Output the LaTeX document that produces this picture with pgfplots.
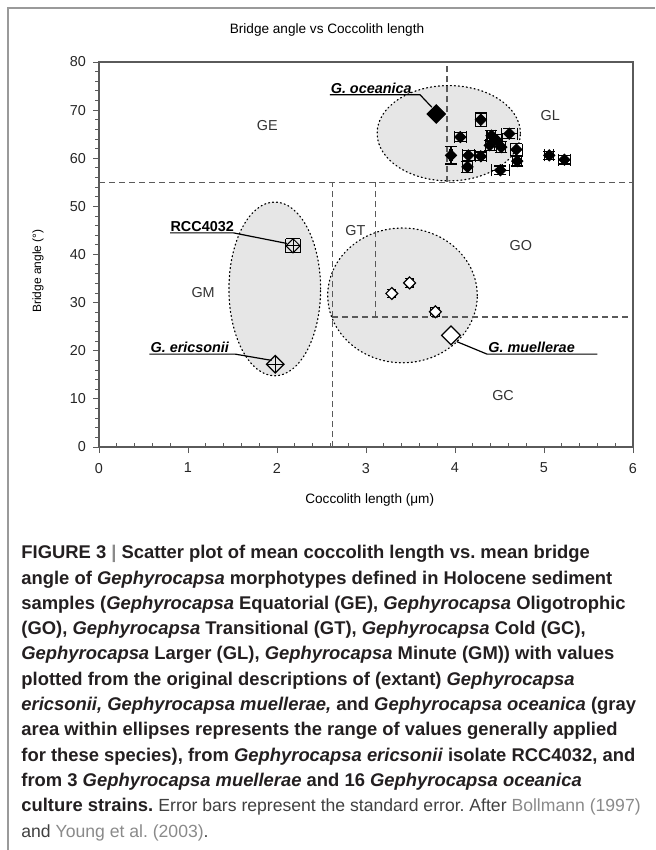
\documentclass[border=0pt]{standalone}
\usepackage{fontspec}
\setmainfont{Liberation Sans}
\usepackage{pgfplots}
\pgfplotsset{compat=1.18}
\usepackage{pgfplotstable}

\definecolor{framegray}{HTML}{9A9A9A}
\definecolor{axisgray}{HTML}{5A5A5A}
\definecolor{ellfill}{HTML}{E6E6E6}
\definecolor{captxt}{HTML}{231F20}
\definecolor{linkgray}{HTML}{8A8A8A}

% G. oceanica culture strains (mean, standard error)
\pgfplotstableread{
x     y     ex    ey
4.29  68.0  0.06  1.4
4.06  64.4  0.07  1.0
3.955 60.6  0.02  1.8
4.15  60.6  0.07  1.1
4.29  60.4  0.06  0.9
4.14  58.2  0.06  1.2
4.41  64.7  0.05  1.0
4.47  63.7  0.06  1.2
4.39  62.7  0.05  1.0
4.52  62.3  0.05  1.1
4.61  65.1  0.09  1.0
4.69  61.8  0.07  1.2
4.70  59.4  0.05  1.0
4.51  57.5  0.10  0.9
5.06  60.6  0.05  0.8
5.23  59.7  0.07  0.9
}\oceanica

% G. muellerae culture strains
\pgfplotstableread{
x     y     ex    ey
3.29  31.9  0.04  0.9
3.49  34.1  0.04  1.0
3.78  28.1  0.05  0.9
}\muellerae

\begin{document}
\frenchspacing
\begin{tikzpicture}[x=0.5pt,y=-0.5pt,
    dashline/.style={axisgray, line width=0.6pt, dash pattern=on 3pt off 2pt},
    ell/.style={fill=ellfill, draw=black, line width=0.6pt, dash pattern=on 0.5pt off 1.5pt, line cap=round}]
\useasboundingbox (0,0) rectangle (655,850);
\draw[framegray, line width=0.75pt] (8,850) -- (8,8) -- (655,8);

\node[font=\fontsize{6.8}{8}\selectfont] at (327,30) {Bridge angle vs Coccolith length};

\begin{axis}[
    at={(49.5pt,-223.5pt)}, anchor=south west,
    scale only axis, width=267pt, height=192.5pt,
    xmin=0, xmax=6, ymin=0, ymax=80,
    xtick={0,1,...,6}, ytick={0,10,...,80},
    minor x tick num=4, minor y tick num=4,
    xtick pos=bottom, ytick pos=left,
    tick align=outside,
    major tick length=3pt, minor tick length=1.8pt,
    every minor x tick/.append style={yshift=1.8pt},
    axis line style={axisgray, line width=0.6pt},
    tick style={axisgray, line width=0.5pt},
    ticklabel style={font=\fontsize{7.2}{8}\selectfont, text=black!85},
    xticklabel style={yshift=-1.5pt},
    /pgf/number format/assume math mode=true,
    xlabel={Coccolith length (μm)},
    ylabel={Bridge angle (°)},
    xlabel style={font=\fontsize{6.8}{8}\selectfont,
        at={(axis description cs:0.507,-0.138)}, anchor=center},
    ylabel style={font=\fontsize{6}{7}\selectfont,
        at={(axis description cs:-0.114,0.457)}, anchor=center},
]
% ranges generally applied for the species
\filldraw[ell] (axis cs:3.93,65.2) ellipse [x radius=0.805, y radius=9.9];
\filldraw[ell] (axis cs:1.975,32.85) ellipse [x radius=0.515, y radius=18.05];
\filldraw[ell] (axis cs:3.41,31.5) ellipse [x radius=0.84, y radius=14.0];

% morphotype boundaries
\addplot[dashline] coordinates {(3.91,55) (3.91,80)};
\addplot[dashline] coordinates {(0,55) (6,55)};
\addplot[dashline] coordinates {(2.62,0) (2.62,55)};
\addplot[dashline] coordinates {(3.11,27) (3.11,55)};
\addplot[dashline] coordinates {(2.62,27) (6,27)};

% culture strains
\addplot[only marks, mark=square*, mark size=2.0pt,
    mark options={rotate=45, fill=black, draw=black},
    error bars/.cd, x dir=both, x explicit, y dir=both, y explicit,
    error bar style={black, line width=0.55pt},
    error mark options={rotate=90, mark size=3pt, black, line width=0.55pt}]
    table[x=x, y=y, x error=ex, y error=ey] {\oceanica};
\addplot[only marks, mark=square*, mark size=2.1pt,
    mark options={rotate=45, fill=white, draw=black, line width=0.6pt},
    error bars/.cd, x dir=both, x explicit, y dir=both, y explicit,
    error bar style={black, line width=0.5pt},
    error mark options={rotate=90, mark size=2.2pt, black, line width=0.5pt}]
    table[x=x, y=y, x error=ex, y error=ey] {\muellerae};
% RCC4032
\addplot[only marks, mark=square, mark size=2.5pt,
    mark options={rotate=45, draw=black, line width=0.5pt},
    error bars/.cd, x dir=both, x explicit, y dir=both, y explicit,
    error bar style={black, line width=0.5pt},
    error mark options={rotate=90, mark size=3.5pt, black, line width=0.5pt}]
    coordinates {(2.18,41.8) +- (0.079,1.45)};
% G. ericsonii, original description
\addplot[only marks, mark=square, mark size=3.1pt,
    mark options={rotate=45, draw=black, line width=0.6pt},
    error bars/.cd, x dir=both, x explicit, y dir=both, y explicit,
    error bar style={black, line width=0.5pt}, error mark=none]
    coordinates {(1.98,17.2) +- (0.098,1.8)};
% G. oceanica and G. muellerae, original descriptions
\addplot[only marks, mark=square*, mark size=3.3pt,
    mark options={rotate=45, fill=black, draw=black}]
    coordinates {(3.79,69.2)};
\addplot[only marks, mark=square*, mark size=3.3pt,
    mark options={rotate=45, fill=white, draw=black, line width=0.6pt}]
    coordinates {(3.955,23.2)};

% morphotype names
\begin{scope}[font=\fontsize{7.2}{8}\selectfont, text=black!80]
\node at (axis cs:1.89,66.8) {GE};
\node at (axis cs:5.07,68.9) {GL};
\node at (axis cs:1.17,32.2) {GM};
\node at (axis cs:2.88,45.0) {GT};
\node at (axis cs:4.74,41.9) {GO};
\node at (axis cs:4.54,10.6) {GC};
\end{scope}

% species labels
\begin{scope}[font=\fontsize{7.2}{8}\selectfont\bfseries, inner sep=0pt]
\node[anchor=base west] at (axis cs:2.60,73.55) {\itshape G. oceanica};
\draw[black, line width=0.6pt] (axis cs:2.595,73.2) -- (axis cs:3.607,73.2) -- (axis cs:3.74,70.6);
\node[anchor=base west] at (axis cs:0.80,44.85) {RCC4032};
\draw[black, line width=0.6pt] (axis cs:0.80,44.5) -- (axis cs:1.51,44.5) -- (axis cs:2.11,42.3);
\node[anchor=base west] at (axis cs:0.575,19.65) {\itshape G. ericsonii};
\draw[black, line width=0.6pt] (axis cs:0.565,19.3) -- (axis cs:1.53,19.3) -- (axis cs:1.94,18.0);
\node[anchor=base west] at (axis cs:4.37,19.65) {\itshape G. muellerae};
\draw[black, line width=0.6pt] (axis cs:5.6,19.3) -- (axis cs:4.36,19.3) -- (axis cs:4.02,21.9);
\end{scope}
\end{axis}

\node[anchor=north west, inner sep=0pt, align=left, text=captxt,
      font=\fontsize{9.2}{12.65}\selectfont\bfseries] at (21,545) {%
FIGURE 3 {\color{linkgray}|} Scatter plot of mean coccolith length vs. mean bridge\\
angle of \textit{Gephyrocapsa} morphotypes defined in Holocene sediment\\
samples (\textit{Gephyrocapsa} Equatorial (GE), \textit{Gephyrocapsa} Oligotrophic\\
(GO), \textit{Gephyrocapsa} Transitional (GT), \textit{Gephyrocapsa} Cold (GC),\\
\textit{Gephyrocapsa} Larger (GL), \textit{Gephyrocapsa} Minute (GM)) with values\\
plotted from the original descriptions of (extant) \textit{Gephyrocapsa}\\
\textit{ericsonii, Gephyrocapsa muellerae,} and \textit{Gephyrocapsa oceanica} (gray\\
area within ellipses represents the range of values generally applied\\
for these species), from \textit{Gephyrocapsa ericsonii} isolate RCC4032, and\\
from 3 \textit{Gephyrocapsa muellerae} and 16 \textit{Gephyrocapsa oceanica}\\
culture strains. {\mdseries\fontsize{8.8}{12.65}\selectfont\color{black!75}Error bars represent the standard error. After {\color{linkgray}Bollmann (1997)}}\\
{\mdseries\fontsize{8.8}{12.65}\selectfont\color{black!75}and {\color{linkgray}Young et al. (2003)}.}};
\end{tikzpicture}
\end{document}
